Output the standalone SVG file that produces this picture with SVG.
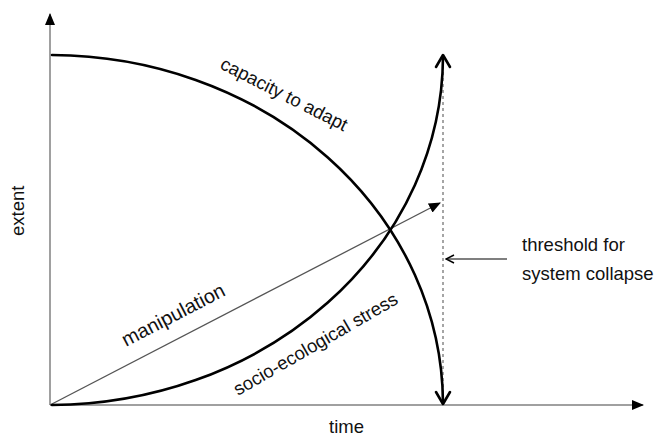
<svg xmlns="http://www.w3.org/2000/svg" width="661" height="437" viewBox="0 0 661 437">
  <defs>
    <marker id="axisHead" viewBox="0 0 12 10" refX="11" refY="5" markerWidth="12" markerHeight="10" markerUnits="userSpaceOnUse" orient="auto">
      <path d="M0,0 L12,5 L0,10 Z" fill="#000"/>
    </marker>
    <marker id="solidHead" viewBox="0 0 12 10" refX="11" refY="5" markerWidth="12" markerHeight="10" markerUnits="userSpaceOnUse" orient="auto">
      <path d="M0,0 L12,5 L0,10 Z" fill="#000"/>
    </marker>
    <marker id="openHead" viewBox="0 0 10 10" refX="9" refY="5" markerWidth="10" markerHeight="10" markerUnits="userSpaceOnUse" orient="auto">
      <path d="M1,1 L9,5 L1,9" fill="none" stroke="#000" stroke-width="1.5"/>
    </marker>
  </defs>
  <style>
    .axis { stroke: #a0a0a0; stroke-width: 2; fill: none; }
    .curve { stroke: #000; stroke-width: 2.6; fill: none; stroke-linecap: round; }
    .head { stroke: #000; stroke-width: 2.6; fill: none; stroke-linecap: round; stroke-linejoin: round; }
    .thin { stroke: #555; stroke-width: 1.3; fill: none; }
    .dash { stroke: #888; stroke-width: 1.5; stroke-dasharray: 3 3; fill: none; }
    text { font-family: "Liberation Sans", Arial, sans-serif; font-size: 18.5px; fill: #111; }
  </style>

  <g id="axes">
    <line class="axis" x1="50" y1="405" x2="50" y2="14" marker-end="url(#axisHead)"/>
    <line class="axis" x1="50" y1="405" x2="643" y2="405" marker-end="url(#axisHead)"/>
    <text id="label-extent" transform="translate(24,236) rotate(-90)">extent</text>
    <text id="label-time" x="329" y="433">time</text>
  </g>

  <g id="threshold-line">
    <line class="dash" x1="443" y1="60" x2="443" y2="404"/>
  </g>

  <g id="connectors">
    <!-- manipulation trend -->
    <line class="thin" x1="50" y1="405" x2="440" y2="203" marker-end="url(#solidHead)"/>
    <!-- pointer to threshold -->
    <line class="thin" x1="507" y1="259" x2="446" y2="259" marker-end="url(#openHead)"/>
  </g>

  <g id="capacity">
    <path class="curve" d="M52,55 A393,350 0 0 1 443,403"/>
    <path class="head" d="M436,392 L443,404 L450,392"/>
    <text transform="translate(219,68) rotate(27)">capacity to adapt</text>
  </g>

  <g id="stress">
    <path class="curve" d="M52,405 A393,350 0 0 0 443,57"/>
    <path class="head" d="M436,67 L443,55 L450,67"/>
    <text transform="translate(238,396) rotate(-30)">socio-ecological stress</text>
  </g>

  <g id="manipulation">
    <text style="font-size:20px" transform="translate(126,347) rotate(-27.4)">manipulation</text>
  </g>

  <g id="threshold-label">
    <text x="522" y="251">threshold for</text>
    <text x="522" y="280">system collapse</text>
  </g>
</svg>
